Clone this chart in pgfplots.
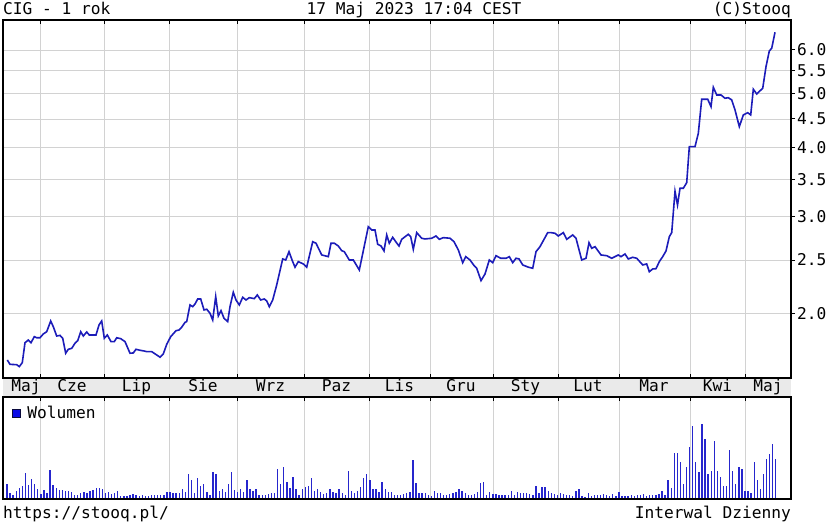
\documentclass[border=0pt]{standalone}
\usepackage{fontspec}
\usepackage{pgfplots}
\pgfplotsset{compat=1.18}
\newfontfamily\mono{DejaVu Sans Mono}
\newcommand\tf{\mono\fontsize{16.2bp}{18bp}\selectfont}
\definecolor{pline}{RGB}{28,28,185}
\definecolor{volblue}{RGB}{38,38,205}
\definecolor{legblue}{RGB}{10,10,230}
\definecolor{legedge}{RGB}{10,10,60}
\definecolor{gridgray}{RGB}{210,210,210}
\definecolor{bandgray}{RGB}{234,234,234}
\begin{document}
\begin{tikzpicture}[x=1bp,y=1bp]
\useasboundingbox (0,0) rectangle (829,523);
\fill[bandgray] (3,126) rectangle (791,145);
% ---------------- price panel ----------------
\begin{axis}[
  at={(3bp,145bp)}, anchor=south west, scale only axis,
  width=788bp, height=358bp,
  xmin=3, xmax=791, ymode=log, ymin=1.5297, ymax=6.798,
  xtick={40,104,169,237,304,369,430,493,558,619,690,745}, xticklabels={},
  xtick pos=both, tick align=inside, major tick length=4bp,
  ytick={2,2.5,3,3.5,4,4.5,5,5.5,6},
  yticklabels={2.0,2.5,3.0,3.5,4.0,4.5,5.0,5.5,6.0},
  ytick pos=right, yticklabel pos=right, yminorticks=false,
  y tick style={xshift=4bp},
  yticklabel style={anchor=west, inner sep=0pt, xshift=6bp, font=\tf},
  tick style={black, line width=1bp},
  grid=major, major grid style={draw=gridgray, line width=0.9bp},
  axis line style={line width=1.3bp},
  clip=true,
]
\addplot[pline, line width=1.6bp] coordinates {
(7.3,1.649) (10,1.619) (16.7,1.617) (19.3,1.604) (22.3,1.631) (25,1.772)
(28.3,1.792) (31,1.772) (34.3,1.817) (36.7,1.809) (40,1.809) (43.3,1.838)
(46.7,1.855) (50.7,1.940) (53.3,1.894) (56.7,1.822) (60,1.827) (62.7,1.805)
(65.7,1.696) (68.3,1.724) (71.7,1.731) (75,1.768) (77.7,1.787) (80.7,1.855)
(83.3,1.822) (86.7,1.853) (89.3,1.830) (93.3,1.830) (96,1.830) (99,1.908)
(101.7,1.940) (104.3,1.805) (107.3,1.830) (111,1.780) (114.3,1.780) (116.7,1.809)
(120.7,1.802) (125,1.780) (130,1.696) (133.3,1.698) (136,1.724) (140,1.717)
(144,1.712) (146.7,1.707) (151.7,1.707) (156.7,1.684) (160,1.668) (163.3,1.691)
(166.7,1.760) (170.7,1.817) (176,1.863) (179,1.868) (181.7,1.890) (185,1.929)
(186.7,1.935) (190,2.074) (192.7,2.059) (195,2.082) (197.7,2.126) (200.7,2.126)
(204,2.031) (206.7,2.037) (210,2.003) (212.7,1.948) (215.7,2.147) (218.3,1.981)
(221,2.025) (224,1.962) (227.7,1.935) (230,2.059) (233.3,2.186) (236,2.117)
(239.3,2.074) (242.7,2.141) (246,2.117) (249.3,2.138) (254.3,2.129) (257.3,2.162)
(260.7,2.117) (264.3,2.126) (266.7,2.109) (269.3,2.059) (272.7,2.117) (276.7,2.254)
(282.7,2.512) (285.7,2.501) (289,2.589) (292.3,2.494) (295,2.427) (298.3,2.484)
(303.3,2.460) (306.7,2.427) (312.7,2.699) (316,2.682) (321.7,2.554) (328.3,2.536)
(331,2.682) (334.3,2.682) (338.3,2.651) (341.7,2.600) (344.3,2.589) (349.3,2.501)
(353.3,2.501) (359.3,2.399) (368.3,2.873) (371.7,2.834) (375,2.834) (377.7,2.670)
(381,2.651) (384,2.597) (386.7,2.776) (389.3,2.682) (392.7,2.749) (395.7,2.699)
(399,2.651) (401.7,2.726) (408.3,2.784) (410.7,2.756) (413.3,2.615) (416.7,2.803)
(421.7,2.738) (425,2.730) (431.7,2.738) (436,2.764) (439.3,2.726) (443.3,2.745)
(450,2.738) (454,2.699) (458.3,2.608) (462.7,2.473) (465.7,2.536) (470,2.501)
(474.3,2.440) (476.7,2.416) (481,2.295) (485,2.359) (489.3,2.501) (492.7,2.473)
(496,2.546) (500.7,2.519) (506,2.519) (509.3,2.536) (512.7,2.473) (516,2.519)
(519,2.512) (522.7,2.450) (528.3,2.427) (532.7,2.416) (536,2.589) (540,2.644)
(547.7,2.803) (551,2.803) (555,2.795) (558.3,2.764) (563.3,2.803) (566.7,2.726)
(572.7,2.776) (576,2.738) (581.7,2.501) (586,2.519) (589,2.688) (591.7,2.626)
(595,2.644) (601,2.554) (606.7,2.546) (611.7,2.519) (618.3,2.554) (621,2.536)
(625,2.564) (628.3,2.512) (632.7,2.529) (636.7,2.519) (642.7,2.450) (646.7,2.460)
(649.3,2.382) (652.7,2.409) (656,2.412) (659.3,2.484) (662.7,2.536) (666,2.597)
(669.3,2.756) (671.7,2.803) (675,3.330) (677.5,3.145) (680,3.372) (683.3,3.372)
(686.7,3.452) (689.3,4.010) (695,4.010) (698.3,4.240) (701.7,4.886) (707.7,4.886)
(711,4.737) (713.3,5.136) (716.7,4.974) (721,4.974) (725,4.906) (728.3,4.918)
(731.7,4.872) (735,4.673) (739.3,4.359) (743.3,4.576) (747.7,4.620) (750.7,4.576)
(753.3,5.094) (756.7,4.995) (762.7,5.115) (766,5.597) (769.3,5.975) (771.7,6.043)
(775,6.459)
};
\end{axis}
% ---------------- volume panel ----------------
\begin{axis}[
  at={(3bp,24bp)}, anchor=south west, scale only axis,
  width=788bp, height=102bp,
  xmin=3, xmax=791, ymin=-1.3, ymax=100.7,
  xtick={40,104,169,237,304,369,430,493,558,619,690,745}, xticklabels={},
  xtick pos=right, tick align=inside, major tick length=4bp,
  ytick=\empty,
  tick style={black, line width=1bp},
  xmajorgrids, major grid style={draw=gridgray, line width=0.9bp},
  axis line style={line width=1.3bp},
  legend style={at={(axis description cs:0,1)}, anchor=north west,
    draw=none, fill=none, inner sep=0pt, outer sep=0pt,
    xshift=8.5bp, yshift=-7bp, font=\tf,
    /tikz/every odd column/.style={column sep=5bp}},
  legend image code/.code={\draw[fill=legblue, draw=legedge, line width=0.8bp] (0bp,-4bp) rectangle (8bp,4bp);},
]
\addplot[ycomb, draw=volblue, line width=1.35bp] table[row sep=\\, header=false, x expr={7+3.075*\coordindex}, y index=0] {
14\\5\\3\\7\\10\\12\\25\\13\\19\\14\\9\\4\\8\\5\\28\\13\\10\\8\\8\\7\\
7\\6\\3\\3\\5\\6\\5\\7\\8\\10\\10\\9\\5\\6\\4\\5\\7\\1.7\\2\\2\\
2.7\\4\\2.7\\2\\2.7\\1.7\\2\\2.7\\3\\2.7\\2.7\\2.7\\5.3\\6\\4.3\\4.3\\4.3\\8.7\\6\\23.7\\
17.7\\4.3\\19.3\\11.7\\13.3\\5.3\\3\\25.3\\23.7\\7\\8.7\\6\\13.3\\25.3\\7.7\\5.3\\8.7\\6\\17.7\\8.7\\
7\\8.7\\2.7\\2.7\\2.7\\3.7\\4.3\\4.3\\28.3\\13.3\\31\\16\\10\\21\\8.7\\2.7\\8.7\\10.3\\11.7\\19.3\\
7\\8.7\\5.3\\3.3\\4.3\\8.7\\5.3\\4.3\\8.7\\4.3\\2.7\\26.7\\7\\4.3\\7\\10.3\\19.3\\23.3\\17.7\\8.7\\
8.7\\5.3\\16\\8.7\\5.3\\5.3\\2.7\\2.7\\2.7\\3.3\\4.3\\5.3\\37.7\\14.3\\4.3\\4.3\\4.3\\2.7\\1.7\\7\\
4.3\\4.3\\2.7\\2.7\\3.3\\4.3\\6\\8.7\\6.7\\4.3\\2.7\\2.7\\3.7\\6\\14.3\\16\\2.7\\5.3\\3.7\\3.7\\
2.7\\2.7\\2.7\\2.7\\7\\2.7\\5.3\\4.3\\4.3\\4.3\\3.3\\2.7\\12\\4.3\\10.3\\10.3\\7\\4.3\\3.7\\2.7\\
4.3\\3.7\\2.7\\2.7\\2\\6.7\\8.7\\1.7\\1\\4.3\\1.7\\2.7\\2.7\\2.7\\3.7\\2.7\\1.7\\3.7\\2\\5.3\\
1.7\\1.7\\1.7\\2.7\\1.7\\2.7\\2.7\\4\\1.7\\2.7\\2.7\\2.7\\3.7\\6.7\\2.7\\17.7\\10\\44.3\\44.3\\35.3\\
13.3\\31\\50.3\\71.7\\35.3\\25.3\\73.3\\58.3\\23.7\\26.7\\56.7\\26.7\\20.3\\11.7\\11.7\\48\\26.7\\13.7\\31\\28.3\\
7\\7\\4.3\\35.3\\17.7\\8.7\\23.3\\38.7\\43.3\\53.7\\38.7\\
};
\addlegendentry{Wolumen}
\end{axis}
% ---------------- texts ----------------
\begin{scope}[every node/.style={inner sep=0pt, font=\tf}]
\node[anchor=base west] at (3,508) {CIG - 1 rok};
\node[anchor=base] at (414,508) {17 Maj 2023 17:04 CEST};
\node[anchor=base east] at (791,508) {(C)Stooq};
\node[anchor=base west] at (3,4.7) {https://stooq.pl/};
\node[anchor=base east] at (791,4.7) {Interwal Dzienny};
\node[anchor=base] at (26,131.3) {Maj};
\node[anchor=base] at (72,131.3) {Cze};
\node[anchor=base] at (136.5,131.3) {Lip};
\node[anchor=base] at (203,131.3) {Sie};
\node[anchor=base] at (270.5,131.3) {Wrz};
\node[anchor=base] at (336.5,131.3) {Paz};
\node[anchor=base] at (399.5,131.3) {Lis};
\node[anchor=base] at (461,131.3) {Gru};
\node[anchor=base] at (525.5,131.3) {Sty};
\node[anchor=base] at (588,131.3) {Lut};
\node[anchor=base] at (654,131.3) {Mar};
\node[anchor=base] at (717.5,131.3) {Kwi};
\node[anchor=base] at (768,131.3) {Maj};
\end{scope}
\end{tikzpicture}
\end{document}
